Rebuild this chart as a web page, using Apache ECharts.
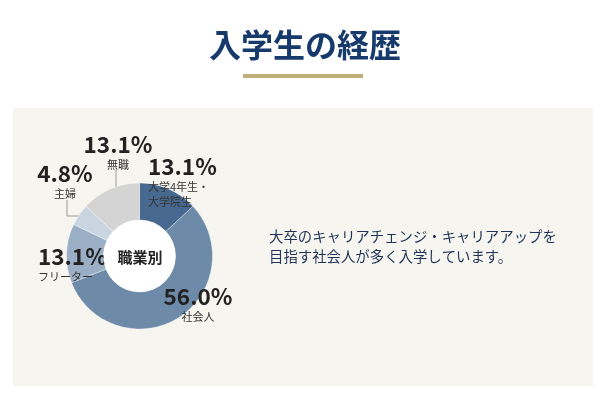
<!DOCTYPE html>
<html>
<head>
<meta charset="utf-8">
<script src="https://cdn.jsdelivr.net/npm/echarts@6/dist/echarts.min.js"></script>
<style>
html,body{margin:0;padding:0;background:#ffffff;}
#chart{width:613px;height:393px;}
</style>
</head>
<body>
<div id="chart"></div>
<script>
// ---- data ----
const titleText = '入学生の経歴';
const centerText = '職業別';
const categories = ['大学4年生・\n大学院生', '社会人', 'フリーター', '主婦', '無職'];
const values = [13.1, 56.0, 13.1, 4.8, 13.1];
const sliceColors = ['#48698f', '#6d8aa8', '#9aafc5', '#c9d5e1', '#d4d4d4'];
const bodyLines = ['大卒のキャリアチェンジ・キャリアアップを', '目指す社会人が多く入学しています。'];

// ---- layout (label placement) ----
const labelPlaces = [
  {x: 148, y: 153, align: 'left'},
  {x: 198, y: 283, align: 'center'},
  {x: 38,  y: 243, align: 'left'},
  {x: 65,  y: 160, align: 'center'},
  {x: 118, y: 131, align: 'center'}
];
const leaderLines = {
  3: [[86, 216], [67, 216], [67, 200]],
  4: [[116, 202], [116, 186], [116, 170]]
};

const FONT = '"Noto Sans CJK JP", "Noto Sans", sans-serif';
const chart = echarts.init(document.getElementById('chart'), null, {renderer: 'canvas'});

const seriesData = categories.map((name, i) => ({
  name: name,
  value: values[i],
  itemStyle: {color: sliceColors[i]},
  labelLine: {show: !!leaderLines[i], lineStyle: {color: '#9a9a9a', width: 1}}
}));

chart.setOption({
  backgroundColor: '#ffffff',
  animation: false,
  title: {
    text: titleText,
    left: 300, top: 24, textAlign: 'center',
    textStyle: {fontFamily: FONT, fontSize: 32, fontWeight: 'bold', color: '#163a6b'}
  },
  graphic: [
    {type: 'rect', z: -10, shape: {x: 13, y: 108, width: 580, height: 278}, style: {fill: '#f7f5f0'}},
    {type: 'rect', shape: {x: 243, y: 74, width: 120, height: 4}, style: {fill: '#bfb077'}},
    {type: 'circle', z: 5, shape: {cx: 139.5, cy: 256, r: 36}, style: {fill: '#ffffff'}},
    {type: 'text', z: 6, x: 140, y: 257, style: {text: centerText, fontFamily: FONT, fontSize: 15, fontWeight: 'bold', fill: '#222222', align: 'center', verticalAlign: 'middle'}},
    {type: 'text', x: 269, y: 227, style: {text: bodyLines.join('\n'), fontFamily: FONT, fontSize: 14.4, lineHeight: 20, fill: '#1f3356', align: 'left', verticalAlign: 'top'}}
  ],
  series: [{
    type: 'pie',
    center: [139.5, 256],
    radius: [36, 73],
    startAngle: 90,
    clockwise: true,
    avoidLabelOverlap: false,
    itemStyle: {borderColor: 'rgba(255,255,255,0.35)', borderWidth: 1},
    emphasis: {disabled: true},
    label: {
      show: true,
      position: 'outside',
      formatter: p => '{p|' + p.value.toFixed(1) + '%}\n{n|' + p.name.split('\n').join('}\n{n|') + '}',
      rich: {
        p: {fontFamily: FONT, fontSize: 22.5, fontWeight: 'bold', color: '#222222', lineHeight: 26},
        n: {fontFamily: FONT, fontSize: 11, color: '#333333', lineHeight: 15}
      }
    },
    labelLayout: function (params) {
      const i = params.dataIndex;
      const pl = labelPlaces[i];
      const out = {x: pl.x, y: pl.y, align: pl.align, verticalAlign: 'top'};
      if (leaderLines[i]) out.labelLinePoints = leaderLines[i];
      return out;
    },
    data: seriesData
  }]
});
</script>
</body>
</html>
